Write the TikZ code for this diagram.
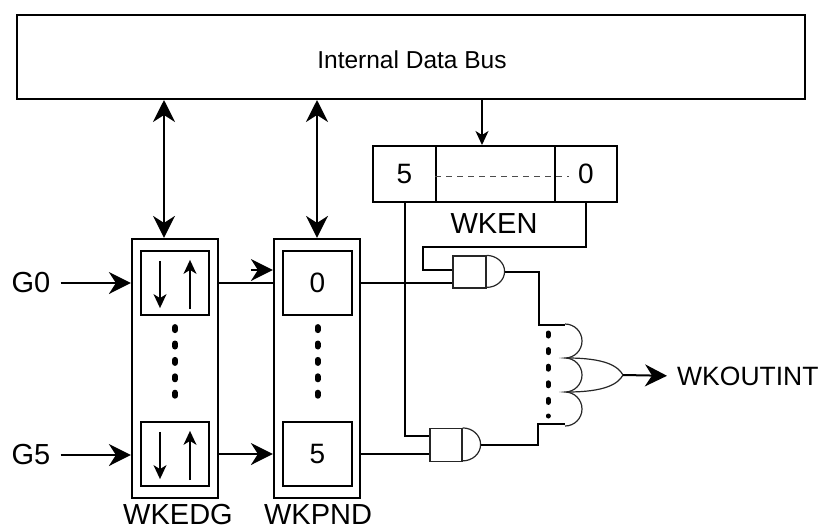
\documentclass[tikz,border=0pt]{standalone}
\usepackage{fontspec}
\setmainfont{Liberation Sans}
\usetikzlibrary{arrows.meta,calc}
\begin{document}
\begin{tikzpicture}[x=1pt,y=-1pt,
  box/.style={draw, line width=2.2pt, inner sep=0pt},
  wire/.style={line width=2pt},
  thinwire/.style={line width=1.5pt},
  gateline/.style={line width=1.2pt, draw=black!85},
  lbl/.style={inner sep=0pt, font=\fontsize{29}{31}\selectfont},
  digit/.style={font=\fontsize{28}{30}\selectfont},
  bigtip/.style={-{Stealth[length=22pt,width=22pt,inset=7pt]}},
  bigboth/.style={{Stealth[length=22pt,width=22pt,inset=7pt]}-{Stealth[length=22pt,width=22pt,inset=7pt]}},
  smalltip/.style={-{Stealth[length=14pt,width=13pt,inset=4pt]}},
  dotsline/.style={line width=6pt, line cap=round, dash pattern=on 3pt off 13.4pt},
  dashline/.style={line width=1pt, draw=black!70, dash pattern=on 6pt off 5pt}
]
\useasboundingbox (0,0) rectangle (820,531);

% bus
\node[box, line width=2pt, minimum width=788pt, minimum height=84pt] (bus) at (411,57) {};
\node[inner sep=0pt, font=\fontsize{24.5}{26}\selectfont] (bustext) at (412,60) {Internal Data Bus};

% WKEDG
\node[box, minimum width=86pt, minimum height=259pt] (edg) at (175,368.5) {};
\node[box, minimum width=68pt, minimum height=64pt] (edg0) at (175,283) {};
\node[box, minimum width=68pt, minimum height=64pt] (edg5) at (175,454) {};
\node[lbl] (edglbl) at ($(edg.south)+(3,15)$) {WKEDG};

% WKPND
\node[box, minimum width=86pt, minimum height=259pt] (pnd) at (317,368.5) {};
\node[box, digit, minimum width=69pt, minimum height=64pt] (pnd0) at (317.5,283) {0};
\node[box, digit, minimum width=69pt, minimum height=64pt] (pnd5) at (317.5,454) {5};
\node[lbl] (pndlbl) at ($(pnd.south)+(1,15)$) {WKPND};

% inner arrows of WKEDG
\draw[thinwire, smalltip] ($(edg0.north)+(-15,11)$) -- ($(edg0.south)+(-15,-8)$);
\draw[thinwire, smalltip] ($(edg0.south)+(15,-7)$) -- ($(edg0.north)+(15,10)$);
\draw[thinwire, smalltip] ($(edg5.north)+(-15,11)$) -- ($(edg5.south)+(-15,-8)$);
\draw[thinwire, smalltip] ($(edg5.south)+(15,-7)$) -- ($(edg5.north)+(15,10)$);

% dots
\draw[dotsline] ($(edg0.south)+(0,11)$) -- ($(edg5.north)+(0,-12)$);
\draw[dotsline] ($(pnd0.south)+(0,11)$) -- ($(pnd5.north)+(0,-12)$);

% bus arrows
\coordinate (edgtop) at ($(edg.north)+(-11,0)$);
\draw[wire, bigboth] (edgtop |- bus.south) -- (edgtop);
\draw[wire, bigboth] (pnd.north |- bus.south) -- (pnd.north);

% inputs
\node[lbl] (g0) at (31,283) {G0};
\node[lbl] (g5) at (31,455) {G5};
\draw[wire, bigtip, shorten <=10pt] (g0.east) -- (g0 -| edg.west);
\draw[wire, bigtip, shorten <=10pt] (g5.east) -- (g5 -| edg.west);

% EDG -> PND
\draw[wire] (edg.east |- edg0) -- (pnd.west |- edg0);
\coordinate (floattip) at ($(pnd.west |- edg0)+(0,-13)$);
\draw[wire, bigtip] ($(floattip)+(-22,0)$) -- (floattip);
\draw[wire, bigtip] (edg.east |- edg5) -- (pnd.west |- edg5);

% WKEN register
\node[box, digit, line width=2pt, minimum width=63pt, minimum height=56pt] (w5) at (404.5,174) {5};
\node[box, line width=2pt, minimum width=119pt, minimum height=56pt] (wm) at (495.5,174) {};
\node[box, digit, line width=2pt, minimum width=62pt, minimum height=56pt] (w0) at (586,174) {0};
\node[lbl] (wkenlbl) at (494,224) {WKEN};
\draw[dashline] ($(wm.west)+(0,2)$) -- ($(w0.west)+(15,2)$);
\coordinate (wkin) at ($(wm.north)+(-13.5,0)$);
\draw[thinwire, smalltip] (wkin |- bus.south) -- (wkin);

% AND gates
\node[gateline, draw, inner sep=0pt, minimum width=33pt, minimum height=32pt] (and1) at (469.5,272) {};
\draw[gateline] (and1.north east) arc[start angle=-90, end angle=90, x radius=18, y radius=16];
\node[gateline, draw, inner sep=0pt, minimum width=32pt, minimum height=33pt] (and2) at (446,445) {};
\draw[gateline] (and2.north east) arc[start angle=-90, end angle=90, x radius=18, y radius=16.5];

\coordinate (a1i1) at ($(and1.west)+(0,-2)$);
\coordinate (a1i2) at (and1.west |- pnd0);
\coordinate (a2i1) at ($(and2.west)+(0,-9)$);
\coordinate (a2i2) at (and2.west |- pnd5);
\coordinate (a1o) at ($(and1.east)+(18,0)$);
\coordinate (a2o) at ($(and2.east)+(18,0)$);

\draw[wire] (w0.south) |- ($(a1i1)+(-29,-23)$) |- (a1i1);
\draw[wire] (w5.south) |- (a2i1);
\draw[wire] (pnd.east |- pnd0) -- (a1i2);
\draw[wire] (pnd.east |- pnd5) -- (a2i2);

% OR gate
\coordinate (orin1) at (565,325);
\coordinate (orin3) at (565,424);
\coordinate (orout) at (623,375);
\draw[gateline] (565,324) arc[start angle=-90, end angle=90, radius=17]
  arc[start angle=-90, end angle=90, radius=17]
  arc[start angle=-90, end angle=90, radius=17];
\draw[gateline] (567,358) .. controls (605,358) and (618,366) .. (orout)
  .. controls (618,384) and (605,392) .. (567,392);

\draw[wire] (a1o) -| ($(orin1)+(-26,0)$) -- (orin1);
\draw[wire] (a2o) -| ($(orin3)+(-27,0)$) -- (orin3);
\draw[line width=5pt, line cap=round, dash pattern=on 3pt off 13.6pt] ($(orin1)+(-17,8)$) -- ($(orin3)+(-17,-8)$);

\node[inner sep=0pt, anchor=west, font=\fontsize{26.5}{28}\selectfont] (wko) at (677,376) {WKOUTINT};
\draw[wire, bigtip, shorten >=10pt] (orout) -- (wko.west);
\end{tikzpicture}
\end{document}
